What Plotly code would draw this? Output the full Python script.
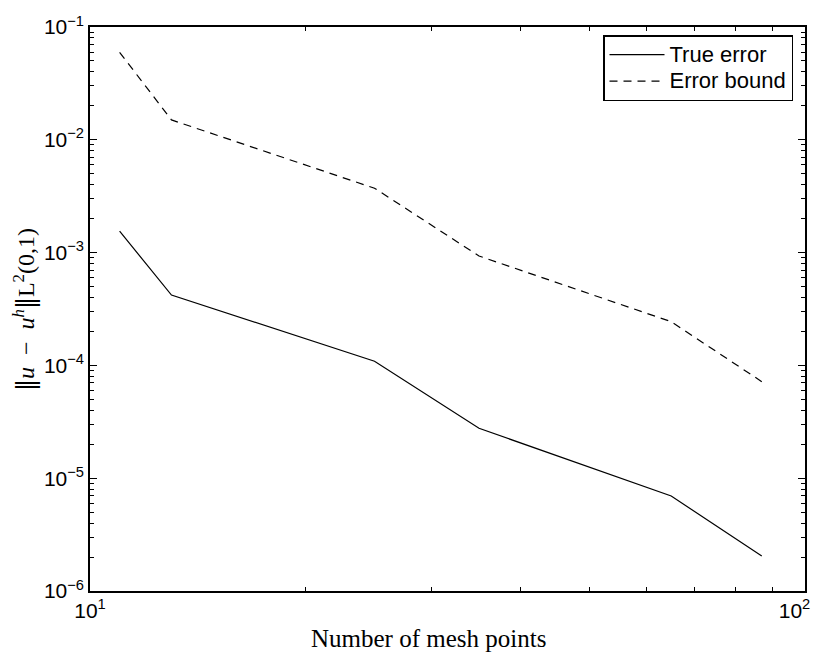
import plotly.graph_objects as go

mesh_points = [11, 13, 25, 35, 65, 87]
true_error = [1.55e-3, 4.2e-4, 1.09e-4, 2.77e-5, 6.95e-6, 2.04e-6]
error_bound = [5.97e-2, 1.5e-2, 3.72e-3, 9.33e-4, 2.44e-4, 7.18e-5]
series_names = ["True error", "Error bound"]

x_tickvals = [10, 100]
x_ticktext = ["10<sup>1</sup>", "10<sup>2</sup>\u2002\u2002"]
y_tickvals = [1e-6, 1e-5, 1e-4, 1e-3, 1e-2, 1e-1]
y_ticktext = ["10<sup>−6</sup>", "10<sup>−5</sup>", "10<sup>−4</sup>",
              "10<sup>−3</sup>", "10<sup>−2</sup>", "10<sup>−1</sup>"]

# page body has an 8px margin; the figure is sized/offset to compensate
OFF = 8
W, H = 822 - OFF, 652 - OFF
L, R, T, B = 90 - OFF, 17, 27 - OFF, 61
pw, ph = W - L - R, H - T - B


def px_x(sx):
    return (sx - OFF - L) / pw


def px_y(sy):
    return (T + ph - (sy - OFF)) / ph


def big(s):
    return '<span style="font-size:22px">' + s + '</span>'


fig = go.Figure()
fig.add_trace(go.Scatter(x=mesh_points, y=true_error, mode="lines", name=big(series_names[0]),
                         line=dict(color="black", width=1.2)))
fig.add_trace(go.Scatter(x=mesh_points, y=error_bound, mode="lines", name=big(series_names[1]),
                         line=dict(color="black", width=1.2, dash="8px,6px")))

tickfont = dict(family="Liberation Sans, Arial, sans-serif", size=21, color="black")
axis_common = dict(type="log", showgrid=False, zeroline=False, showline=True,
                   linecolor="black", linewidth=1.5, mirror="allticks", automargin=False,
                   ticks="inside", ticklen=7, tickwidth=1, tickcolor="black",
                   tickfont=tickfont, ticklabeloverflow="allow",
                   minor=dict(ticks="inside", ticklen=4, tickwidth=1, tickcolor="black",
                              dtick="D1", showgrid=False))

fig.update_xaxes(range=[1, 2], tickvals=x_tickvals, ticktext=x_ticktext, **axis_common)
fig.update_yaxes(range=[-6, -1], tickvals=y_tickvals, ticktext=y_ticktext, **axis_common)

fig.add_annotation(text="Number of mesh points", xref="paper", yref="paper",
                   x=px_x(428), y=px_y(638), showarrow=False,
                   xanchor="center", yanchor="middle",
                   font=dict(family="Liberation Serif, Times New Roman, serif", size=25, color="black"))
norm = '<span style="font-family:DejaVu Sans">‖</span>'
fig.add_annotation(text=norm + "<i>u</i>  −  <i>u</i><sup><i>h</i></sup>" + norm + "L<sup>2</sup>(0,1)",
                   xref="paper", yref="paper",
                   x=px_x(24), y=px_y(310), showarrow=False, textangle=-90,
                   xanchor="center", yanchor="middle",
                   font=dict(family="Liberation Serif, Times New Roman, serif", size=24, color="black"))

fig.update_layout(
    width=W, height=H,
    margin=dict(l=L, r=R, t=T, b=B, autoexpand=False),
    paper_bgcolor="white", plot_bgcolor="white",
    showlegend=True,
    legend=dict(x=px_x(793), y=px_y(35), xanchor="right", yanchor="top",
                bgcolor="white", bordercolor="black", borderwidth=1.5,
                font=dict(family="Liberation Sans, Arial, sans-serif", size=18, color="black"),
                tracegroupgap=0, itemwidth=55),
)

fig.write_html("out.html")
